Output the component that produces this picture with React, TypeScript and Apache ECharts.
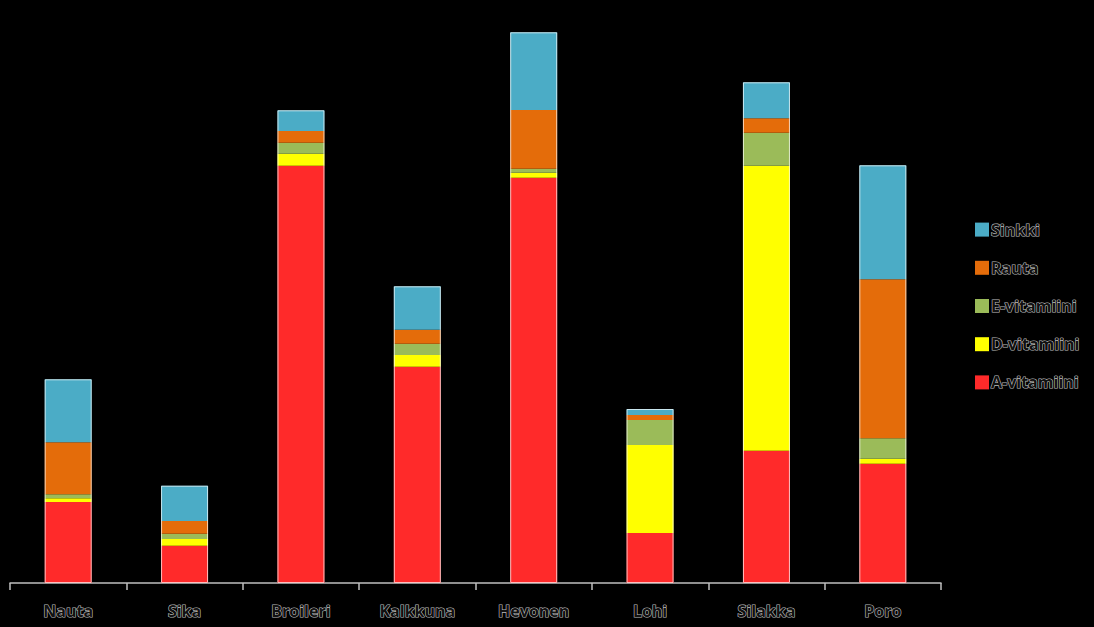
import React, { useEffect, useRef } from "react";
import * as echarts from "echarts";

const categories = ["Nauta", "Sika", "Broileri", "Kalkkuna", "Hevonen", "Lohi", "Silakka", "Poro"];
const aVitamiini = [81, 37.3, 417.3, 216.3, 405.3, 50, 132.3, 119.3];
const dVitamiini = [3.7, 6.7, 12, 11.7, 5, 88, 285, 5];
const eVitamiini = [4, 5.3, 11, 11.3, 4, 25, 33, 20.4];
const rauta = [52, 12.7, 11.7, 14, 58.7, 5, 14.4, 159];
const sinkki = [63, 35.3, 20.7, 43.4, 77.7, 6, 36, 114];

const seriesNames = ["A-vitamiini", "D-vitamiini", "E-vitamiini", "Rauta", "Sinkki"];
const seriesData = [aVitamiini, dVitamiini, eVitamiini, rauta, sinkki];
const seriesColors = ["#ff2a2a", "#ffff00", "#9bbb59", "#e46c0a", "#4bacc6"];
const legendOrder = ["Sinkki", "Rauta", "E-vitamiini", "D-vitamiini", "A-vitamiini"];

const textStyleBase = {
  color: "#111111",
  textBorderColor: "#bdbdbd",
  textBorderWidth: 1.2,
  fontFamily: "'Open Sans', 'Noto Sans', sans-serif",
  fontWeight: "bold" as const,
  fontSize: 16,
};

export default function App() {
  const ref = useRef<HTMLDivElement>(null);
  useEffect(() => {
    if (!ref.current) return;
    const chart = echarts.init(ref.current, undefined, { renderer: "svg" });
    const totals = categories.map((_, i) => seriesData.reduce((s, arr) => s + arr[i], 0));
    const series: any[] = seriesNames.map((name, k) => ({
      name,
      type: "bar",
      stack: "total",
      barWidth: 47,
      data: seriesData[k],
      itemStyle: { color: seriesColors[k] },
    }));
    series.push({
      name: "outline",
      type: "bar",
      barWidth: 47,
      barGap: "-100%",
      silent: true,
      data: totals,
      itemStyle: { color: "transparent", borderColor: "rgba(255,255,255,0.7)", borderWidth: 1 },
      z: 5,
    });
    chart.setOption({
      animation: false,
      backgroundColor: "#000",
      grid: { left: 10, right: 153, top: 1, bottom: 44, containLabel: false },
      legend: {
        data: legendOrder,
        orient: "vertical",
        left: 970,
        top: 216,
        itemWidth: 14,
        itemHeight: 14,
        itemGap: 21,
        icon: "rect",
        textStyle: { ...textStyleBase, padding: [0, 0, 0, -3] },
      },
      xAxis: {
        type: "category",
        data: categories,
        axisLine: { lineStyle: { color: "#bfbfbf", width: 1.5 } },
        axisTick: { show: true, length: 7, lineStyle: { color: "#bfbfbf", width: 1.5 } },
        axisLabel: { ...textStyleBase, margin: 20, interval: 0 },
      },
      yAxis: {
        type: "value",
        min: 0,
        max: 582,
        show: false,
        splitLine: { show: false },
      },
      series,
    });
    return () => chart.dispose();
  }, []);
  return (
    <div
      ref={ref}
      style={{ position: "fixed", left: 0, top: 0, width: 1094, height: 627, background: "#000" }}
    />
  );
}
